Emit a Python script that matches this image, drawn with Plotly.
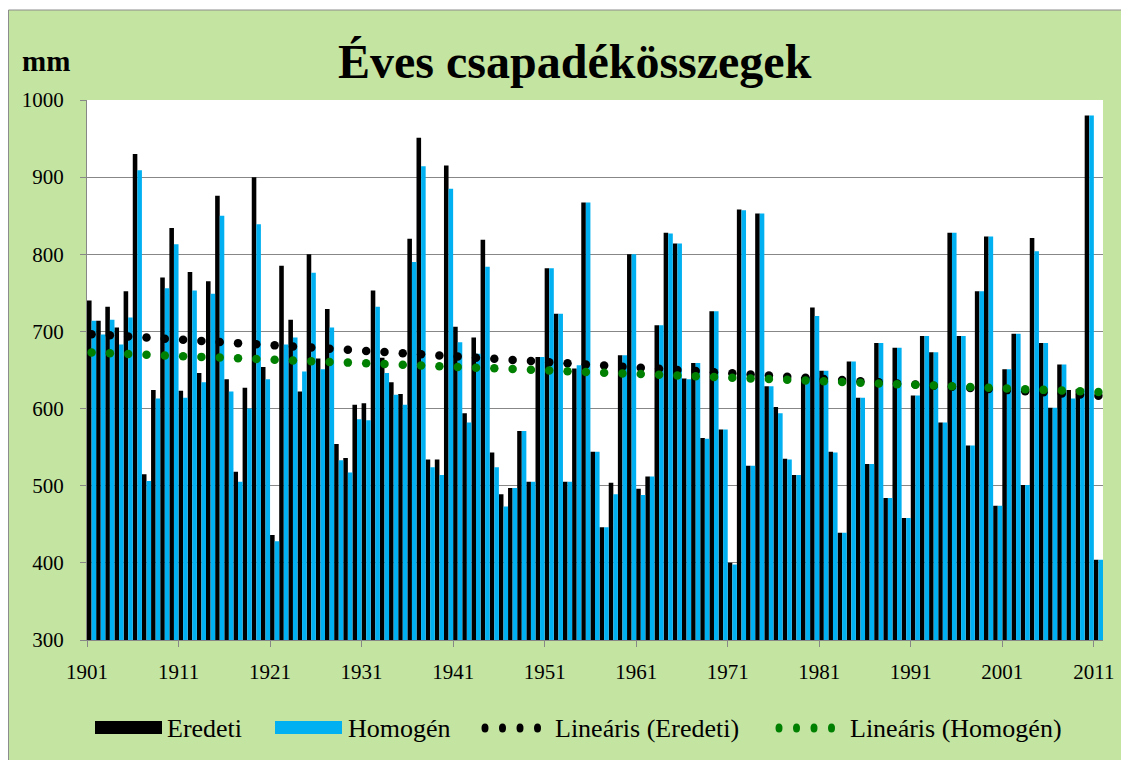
import numpy as np
import plotly.graph_objects as go

# ---------------- data ----------------
years = list(range(1901, 2012))

eredeti = [
    740, 714, 732, 705, 752, 930, 515, 624, 770, 834,
    623, 777, 646, 765, 876, 638, 518, 627, 900, 654,
    436, 785, 715, 622, 800, 665, 729, 554, 536, 605,
    607, 753, 666, 634, 619, 820, 951, 534, 534, 915,
    706, 594, 692, 819, 543, 489, 497, 571, 505, 667,
    782, 723, 505, 652, 867, 544, 446, 504, 669, 800,
    496, 512, 708, 828, 814, 639, 659, 562, 726, 573,
    400, 858, 526, 853, 629, 602, 535, 514, 641, 731,
    649, 544, 439, 661, 614, 528, 685, 484, 679, 458,
    617, 694, 673, 582, 828, 694, 552, 752, 823, 474,
    651, 697, 501, 821, 685, 601, 657, 624, 625, 980,
    404,
]

homogen = [
    714, 696, 715, 683, 718, 909, 506, 613, 756, 813,
    614, 753, 634, 749, 850, 622, 505, 600, 839, 638,
    428, 683, 692, 648, 776, 651, 705, 533, 517, 586,
    585, 732, 646, 618, 605, 790, 914, 524, 514, 885,
    686, 582, 671, 784, 524, 473, 497, 571, 505, 667,
    782, 723, 505, 656, 867, 544, 446, 489, 669, 800,
    488, 512, 708, 827, 814, 638, 659, 561, 726, 573,
    398, 857, 526, 853, 629, 594, 534, 514, 641, 720,
    649, 543, 439, 661, 614, 528, 685, 484, 679, 458,
    617, 694, 673, 582, 828, 694, 552, 752, 823, 474,
    651, 697, 501, 804, 685, 601, 657, 613, 625, 980,
    404,
]

x_tick_vals = list(range(1901, 2012, 10))
y_tick_vals = list(range(300, 1001, 100))

series_names = ["Eredeti", "Homogén", "Lineáris (Eredeti)", "Lineáris (Homogén)"]
title_text = "Éves csapadékösszegek"
unit_text = "mm"

# ---------------- styling / layout geometry ----------------
W, H = 1129, 760
OFF = 8                      # page body margin of the html output
ML, MT = 87 - OFF, 100 - OFF
MR = W - (1103 - OFF)
MB = H - (640 - OFF)
PW, PH = W - ML - MR, H - MT - MB

BG = "#C4E4A2"
BLUE = "#00B0F0"
GREEN = "#008000"
GRID = "#878787"
FONT = "Liberation Serif, Times New Roman, serif"


def px(sx):
    """screen x pixel -> paper fraction"""
    return (sx - OFF - ML) / PW


def py(sy):
    """screen y pixel -> paper fraction"""
    return (H - MB - (sy - OFF)) / PH


# Excel-like linear trendlines computed from the series
yr = np.array(years, dtype=float)
fit_e = np.polyval(np.polyfit(yr, np.array(eredeti, float), 1), yr)
fit_h = np.polyval(np.polyfit(yr, np.array(homogen, float), 1), yr)
trend_x = yr[::2] + 0.5

fig = go.Figure()
fig.add_bar(x=years, y=eredeti, offset=0, width=0.5, marker=dict(color="black", line=dict(width=0)),
            name=series_names[0], showlegend=False)
fig.add_bar(x=years, y=homogen, offset=0.5, width=0.5, marker=dict(color=BLUE, line=dict(width=0)),
            name=series_names[1], showlegend=False)
fig.add_scatter(x=trend_x, y=fit_e[::2], mode="markers", marker=dict(color="black", size=8.5),
                name=series_names[2], showlegend=False, cliponaxis=False)
fig.add_scatter(x=trend_x, y=fit_h[::2], mode="markers", marker=dict(color=GREEN, size=8.5),
                name=series_names[3], showlegend=False, cliponaxis=False)

shapes = [
    # chart area (green box)
    dict(type="rect", xref="paper", yref="paper", layer="below",
         x0=px(OFF + 0.5), x1=px(W + 20), y0=py(H + 20), y1=py(10),
         fillcolor=BG, line=dict(color="#8C8C8C", width=1)),
    # plot area (white)
    dict(type="rect", xref="paper", yref="paper", layer="below",
         x0=0, x1=1, y0=0, y1=1, fillcolor="white", line=dict(width=0)),
]

# custom legend
LY = 728
shapes.append(dict(type="rect", xref="paper", yref="paper", x0=px(95), x1=px(162),
                   y0=py(LY + 6), y1=py(LY - 7), fillcolor="black", line=dict(width=0)))
shapes.append(dict(type="rect", xref="paper", yref="paper", x0=px(275), x1=px(342),
                   y0=py(LY + 6), y1=py(LY - 7), fillcolor=BLUE, line=dict(width=0)))
for cx0, col in ((485, "black"), (779, GREEN)):
    for k in range(4):
        cx = cx0 + k * 17.5
        shapes.append(dict(type="circle", xref="paper", yref="paper",
                           x0=px(cx - 3.5), x1=px(cx + 3.5), y0=py(LY + 4.5), y1=py(LY - 4.5),
                           fillcolor=col, line=dict(width=0)))

annotations = [
    dict(text=f"<b>{title_text}</b>", xref="paper", yref="paper", x=px(575), y=py(62),
         xanchor="center", yanchor="middle", showarrow=False,
         font=dict(family=FONT, size=48, color="black")),
    dict(text=f"<b>{unit_text}</b>", xref="paper", yref="paper", x=px(46), y=py(61),
         xanchor="center", yanchor="middle", showarrow=False,
         font=dict(family=FONT, size=29, color="black")),
]
for name, lx in zip(series_names, (165, 346, 553, 848)):
    annotations.append(dict(text=name, xref="paper", yref="paper", x=px(lx), y=py(LY),
                            xanchor="left", yanchor="middle", showarrow=False,
                            font=dict(family=FONT, size=26, color="black")))

fig.update_layout(
    width=W, height=H,
    margin=dict(l=ML, r=MR, t=MT, b=MB, pad=0),
    paper_bgcolor="white", plot_bgcolor="rgba(0,0,0,0)",
    barmode="overlay",
    showlegend=False,
    shapes=shapes,
    annotations=annotations,
    font=dict(family=FONT, size=21, color="black"),
    xaxis=dict(range=[1901, 2012], tickvals=x_tick_vals, tickformat="d",
               showgrid=False, zeroline=False, showline=True, linecolor=GRID, linewidth=1.3,
               ticks="outside", ticklen=6, tickcolor=GRID, tickwidth=1.3,
               ticklabelstandoff=7,
               tickfont=dict(family=FONT, size=21, color="black")),
    yaxis=dict(range=[300, 1000], tickvals=y_tick_vals,
               showgrid=True, gridcolor=GRID, gridwidth=1.3, zeroline=False,
               showline=True, linecolor=GRID, linewidth=1.3,
               ticks="outside", ticklen=6, tickcolor=GRID, tickwidth=1.3,
               ticklabelstandoff=12,
               tickfont=dict(family=FONT, size=21, color="black")),
)

fig.write_html("out.html")
